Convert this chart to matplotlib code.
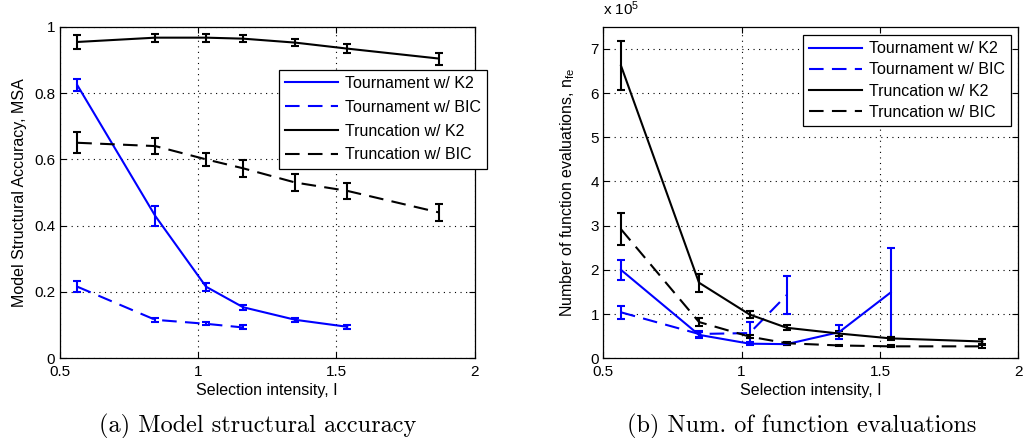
import matplotlib
matplotlib.use("Agg")
import matplotlib.pyplot as plt
from matplotlib.lines import Line2D
import numpy as np

plt.rcParams['font.family'] = ['Liberation Sans', 'DejaVu Sans']
plt.rcParams['mathtext.default'] = 'regular'

# ---- data ----
I_tour = [0.564, 0.846, 1.029, 1.163, 1.352, 1.539]
I_tour_bic = [0.564, 0.846, 1.029, 1.163]
I_trunc = [0.564, 0.846, 1.029, 1.163, 1.352, 1.539, 1.870]

msa_tour_k2 = [0.824, 0.429, 0.216, 0.154, 0.116, 0.095]
msa_tour_k2_err = [0.017, 0.030, 0.012, 0.008, 0.006, 0.006]
msa_tour_bic = [0.216, 0.116, 0.104, 0.093]
msa_tour_bic_err = [0.016, 0.006, 0.005, 0.006]
msa_trunc_k2 = [0.954, 0.967, 0.967, 0.964, 0.952, 0.934, 0.904]
msa_trunc_k2_err = [0.021, 0.012, 0.012, 0.010, 0.010, 0.014, 0.018]
msa_trunc_bic = [0.650, 0.640, 0.600, 0.573, 0.530, 0.505, 0.440]
msa_trunc_bic_err = [0.031, 0.024, 0.020, 0.026, 0.025, 0.025, 0.025]

nfe_tour_k2 = [2.00e5, 0.53e5, 0.33e5, 0.32e5, 0.59e5, 1.49e5]
nfe_tour_k2_err = [0.22e5, 0.06e5, 0.03e5, 0.03e5, 0.16e5, 1.00e5]
nfe_tour_bic = [1.04e5, 0.55e5, 0.57e5, 1.43e5]
nfe_tour_bic_err = [0.15e5, 0.06e5, 0.25e5, 0.42e5]
nfe_trunc_k2 = [6.62e5, 1.71e5, 0.99e5, 0.69e5, 0.56e5, 0.45e5, 0.38e5]
nfe_trunc_k2_err = [0.55e5, 0.20e5, 0.07e5, 0.06e5, 0.06e5, 0.04e5, 0.05e5]
nfe_trunc_bic = [2.92e5, 0.82e5, 0.49e5, 0.34e5, 0.29e5, 0.27e5, 0.27e5]
nfe_trunc_bic_err = [0.36e5, 0.08e5, 0.04e5, 0.03e5, 0.02e5, 0.02e5, 0.03e5]

labels = ['Tournament w/ K2', 'Tournament w/ BIC', 'Truncation w/ K2', 'Truncation w/ BIC']
colors = ['blue', 'blue', 'black', 'black']

DASH = (0, (7, 4))
LW = 1.5
styles = ['-', DASH, '-', DASH]

TICK_FS = 11
LABEL_FS = 11.5

fig = plt.figure(figsize=(10.23, 4.38), dpi=100)
axL = fig.add_axes([0.0582, 0.182, 0.4059, 0.757])
axR = fig.add_axes([0.5897, 0.182, 0.4057, 0.757])


def series(ax, x, y, e, color, ls, scale=1.0):
    y = np.asarray(y) / scale
    e = np.asarray(e) / scale
    ax.errorbar(x, y, yerr=e, color=color, linestyle=ls, linewidth=LW,
                elinewidth=LW, capsize=2.7, capthick=LW)


def style(ax):
    ax.set_xlim(0.5, 2)
    ax.set_xticks([0.5, 1, 1.5, 2])
    ax.set_xticklabels(['0.5', '1', '1.5', '2'])
    ax.grid(True, color='black', linestyle=(0, (1, 4)), linewidth=0.8)
    ax.tick_params(direction='in', length=4, width=0.8, top=True, right=True,
                   labelsize=TICK_FS)
    ax.tick_params(axis='x', pad=5)
    ax.tick_params(axis='y', pad=3)
    for s in ax.spines.values():
        s.set_linewidth(0.9)
    ax.set_xlabel('Selection intensity, I', fontsize=LABEL_FS, labelpad=3)


def legend(ax, anchor, spacing):
    handles = [Line2D([], [], color=c, linestyle=s, linewidth=LW)
               for c, s in zip(colors, styles)]
    leg = ax.legend(handles, labels, loc='upper left', bbox_to_anchor=anchor,
                    bbox_transform=fig.transFigure, fontsize=LABEL_FS,
                    handlelength=3.3, handletextpad=0.45, labelspacing=spacing,
                    borderpad=0.4, borderaxespad=0, fancybox=False,
                    framealpha=1, edgecolor='black')
    leg.get_frame().set_linewidth(0.9)
    return leg


# Left
series(axL, I_tour, msa_tour_k2, msa_tour_k2_err, colors[0], styles[0])
series(axL, I_tour_bic, msa_tour_bic, msa_tour_bic_err, colors[1], styles[1])
series(axL, I_trunc, msa_trunc_k2, msa_trunc_k2_err, colors[2], styles[2])
series(axL, I_trunc, msa_trunc_bic, msa_trunc_bic_err, colors[3], styles[3])
style(axL)
axL.set_ylim(0, 1)
axL.set_yticks([0, 0.2, 0.4, 0.6, 0.8, 1])
axL.set_yticklabels(['0', '0.2', '0.4', '0.6', '0.8', '1'])
axL.set_ylabel('Model Structural Accuracy, MSA', fontsize=LABEL_FS, labelpad=5)

# Right
series(axR, I_tour, nfe_tour_k2, nfe_tour_k2_err, colors[0], styles[0], 1e5)
series(axR, I_tour_bic, nfe_tour_bic, nfe_tour_bic_err, colors[1], styles[1], 1e5)
series(axR, I_trunc, nfe_trunc_k2, nfe_trunc_k2_err, colors[2], styles[2], 1e5)
series(axR, I_trunc, nfe_trunc_bic, nfe_trunc_bic_err, colors[3], styles[3], 1e5)
style(axR)
axR.set_ylim(0, 7.5)
axR.set_yticks(range(8))
axR.set_ylabel('Number of function evaluations, n$_{fe}$', fontsize=LABEL_FS, labelpad=10)
axR.text(0.0, 1.025, 'x 10$^{5}$', transform=axR.transAxes, fontsize=TICK_FS,
         ha='left', va='bottom')

legend(axL, (278.7 / 1023, 1 - 69.7 / 438), 0.55)
legend(axR, (802.7 / 1023, 1 - 35 / 438), 0.38)

fig.text(0.252, 0.027, '(a) Model structural accuracy', family='cmr10',
         fontsize=17.5, ha='center', va='center')
fig.text(0.784, 0.027, '(b) Num. of function evaluations', family='cmr10',
         fontsize=17.5, ha='center', va='center')

fig.savefig('out.png', dpi=100)
